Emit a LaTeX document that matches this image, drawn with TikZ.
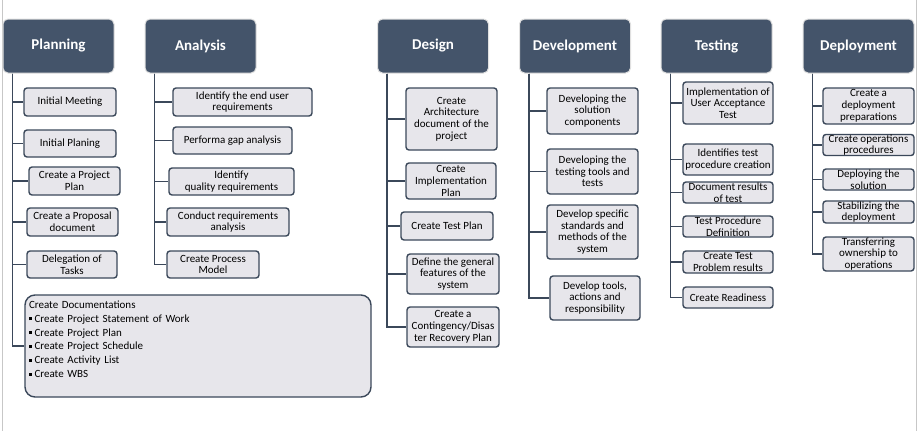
\documentclass[tikz,border=0pt]{standalone}
\usepackage{fontspec}
\setmainfont{Carlito}
\usetikzlibrary{positioning}
\definecolor{slate}{RGB}{68,84,106}
\definecolor{edge}{RGB}{59,72,90}
\definecolor{boxfill}{RGB}{231,230,235}
\newcommand{\sqb}{\rule[1.8pt]{3pt}{3pt}\hspace{2.5pt}}

\tikzset{
  phase/.style={draw=black!12, line width=1pt, fill=slate, rounded corners=5pt,
    minimum width=111, minimum height=54, text=white,
    font=\fontsize{15}{18}\selectfont\bfseries},
  task/.style 2 args={draw=edge, line width=1.4pt, fill=boxfill, rounded corners=3pt,
    minimum width=#1, minimum height=#2, inner sep=0pt, align=center,
    font=\fontsize{11}{11.7}\selectfont},
  branch/.style={draw=edge, line width=1.8pt},
}

\begin{document}
\begin{tikzpicture}[x=1pt,y=-1pt]
\useasboundingbox (0,0) rectangle (920,431);
\draw[black!22, line width=0.8pt] (2.5,0) -- (2.5,431);
\draw[black!22, line width=0.8pt] (916,0) -- (916,431);

% phases
\node[phase] (plan) at (58.5,46) {Planning};
\node[phase] (anal) at (200.5,46) {Analysis};
\node[phase] (desg) at (433,46) {Design};
\node[phase] (devt) at (575,46) {Development};
\node[phase] (test) at (716.5,46) {Testing};
\node[phase] (depl) at (858.5,46) {Deployment};
\foreach \h in {plan,anal,desg,devt,test,depl}
  \coordinate (\h T) at ([xshift=10pt]\h.south west);

% planning
\node[task={92}{28}] (p1) at (70,102) {Initial Meeting};
\node[task={92}{27}] (p2) at (70,143.5) {Initial Planing};
\node[task={91}{28}] (p3) at (74.5,181) {Create a Project\\Plan};
\node[task={91}{28}] (p4) at (72.5,222) {Create a Proposal\\document};
\node[task={90}{27}] (p5) at (72,264.5) {Delegation of\\Tasks};
\node[task={346}{102}, rounded corners=10pt, align=left, text width=338, inner sep=3pt,
  font=\fontsize{11}{13.8}\selectfont] (p6) at (198,346)
  {Create Documentations\\
   \sqb Create Project Statement of Work\\
   \sqb Create Project Plan\\
   \sqb Create Project Schedule\\
   \sqb Create Activity List\\
   \sqb Create WBS\\ \mbox{}};

% analysis
\node[task={139}{28}] (a1) at (242.5,102) {Identify the end user\\requirements};
\node[task={119}{27}] (a2) at (232.5,140.5) {Performa gap analysis};
\node[task={125}{27}] (a3) at (231.5,181.5) {Identify\\quality requirements};
\node[task={122}{28}] (a4) at (228,222) {Conduct requirements\\analysis};
\node[task={92}{27}] (a5) at (213,264.5) {Create Process\\Model};

% design
\node[task={91}{62}] (d1) at (451.5,119) {Create\\Architecture\\document of the\\project};
\node[task={90}{36}] (d2) at (451,181) {Create\\Implementation\\Plan};
\node[task={92}{28}] (d3) at (447,226) {Create Test Plan};
\node[task={92}{40}] (d4) at (453,274) {Define the general\\features of the\\system};
\node[task={92}{40}] (d5) at (453,327) {Create a\\Contingency/Disas\\ter Recovery Plan};

% development
\node[task={91}{46}] (v1) at (592.5,111) {Developing the\\solution\\components};
\node[task={91}{45}] (v2) at (592.5,171.5) {Developing the\\testing tools and\\tests};
\node[task={91}{54}] (v3) at (592.5,232) {Develop specific\\standards and\\methods of the\\system};
\node[task={90}{44}] (v4) at (595,298) {Develop tools,\\actions and\\responsibility};

% testing
\node[task={90}{42}] (t1) at (728,103) {Implementation of\\User Acceptance\\Test};
\node[task={90}{31}] (t2) at (728,159.5) {Identifies test\\procedure creation};
\node[task={90}{21}] (t3) at (728,192.5) {Document results\\of test};
\node[task={90}{21}] (t4) at (728,226.5) {Test Procedure\\Definition};
\node[task={90}{22}] (t5) at (728,262) {Create Test\\Problem results};
\node[task={90}{21}] (t6) at (728,297.5) {Create Readiness};

% deployment
\node[task={91}{36}] (e1) at (868.5,106) {Create a\\deployment\\preparations};
\node[task={91}{20}] (e2) at (868.5,145) {Create operations\\procedures};
\node[task={91}{21}] (e3) at (868.5,179.5) {Deploying the\\solution};
\node[task={91}{22}] (e4) at (868.5,212) {Stabilizing the\\deployment};
\node[task={91}{34}] (e5) at (868.5,254) {Transferring\\ownership to\\operations};

% connectors
\foreach \c in {p1,p2,p3,p4,p5,p6} \draw[branch] (planT) |- (\c.west);
\foreach \c in {a1,a2,a3,a4,a5} \draw[branch] (analT) |- (\c.west);
\foreach \c in {d1,d2,d3,d4,d5} \draw[branch] (desgT) |- (\c.west);
\foreach \c in {v1,v2,v3,v4} \draw[branch] (devtT) |- (\c.west);
\foreach \c in {t1,t2,t3,t4,t5,t6} \draw[branch] (testT) |- (\c.west);
\foreach \c in {e1,e2,e3,e4,e5} \draw[branch] (deplT) |- (\c.west);
\end{tikzpicture}
\end{document}
